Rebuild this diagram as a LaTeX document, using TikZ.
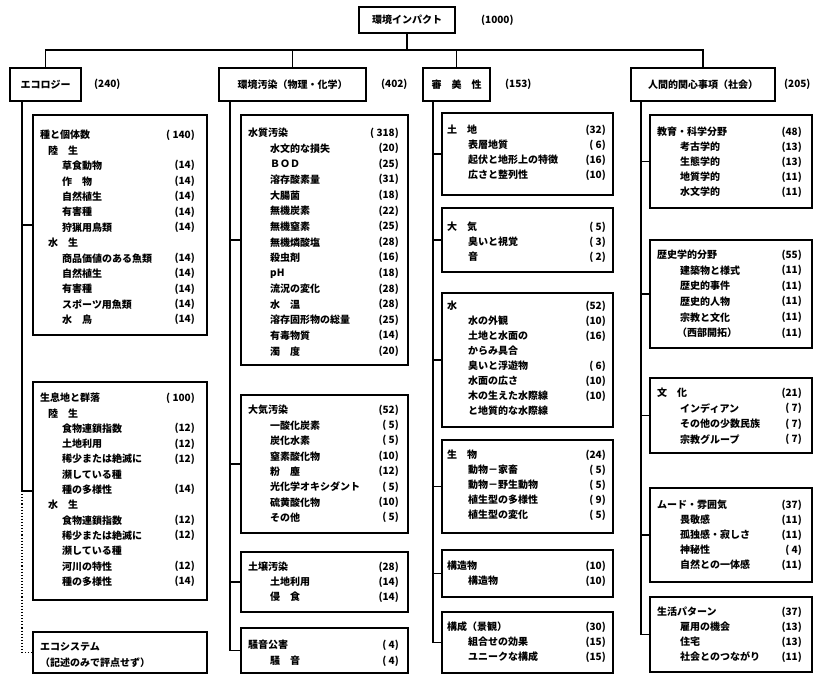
\documentclass[tikz,border=0pt]{standalone}
\usepackage{fontspec}
\setmainfont{Noto Sans CJK JP}
\usepackage{tikz}

\begin{document}
\begin{tikzpicture}[x=1pt, y=-1pt,
  conn/.style={line width=1.1pt},
  hdbox/.style={draw, line width=1.8pt, inner sep=0pt, font=\fontsize{10}{11}\selectfont\bfseries},
  grp/.style={draw, line width=1.3pt, inner sep=0pt},
  row/.style={anchor=west, inner sep=0pt, font=\fontsize{10}{11}\selectfont\bfseries},
  wt/.style={anchor=east, inner sep=0pt, font=\fontsize{10}{11}\selectfont\bfseries}]

\path[use as bounding box, fill=white] (0,0) rectangle (817,675);

% ===== Top =====

\node[hdbox, minimum width=96pt, minimum height=26pt] (imp) at (407,20) {環境インパクト};
\node[row] (impw) at (481,20) {(1000)};

% ===== Level 1 =====

\node[hdbox, minimum width=71pt, minimum height=33pt] (eco) at (45.5,84.5) {エコロジー};
\node[row] (ecow) at (94,84.5) {(240)};
\node[hdbox, minimum width=147pt, minimum height=33pt] (pol) at (292.5,84.5) {環境汚染（物理・化学）};
\node[row] (polw) at (381,84.5) {(402)};
\node[hdbox, minimum width=67pt, minimum height=33pt] (aes) at (456.5,84.5) {審　美　性};
\node[row] (aesw) at (505,84.5) {(153)};
\node[hdbox, minimum width=144pt, minimum height=33pt] (hum) at (703,84.5) {人間的関心事項（社会）};
\node[row] (humw) at (784,84.5) {(205)};

\coordinate (bus) at (407,50);
\draw[conn] (imp.south) -- (bus);
\draw[conn] (eco.north) |- (bus) -| (hum.north);
\draw[conn] (pol.north) -- (pol.north |- bus);
\draw[conn] (aes.north) -- (aes.north |- bus);

% ===== Ecology =====

\node[grp, minimum width=174pt, minimum height=220pt] (eb1) at (120,225) {};
\foreach \ind/\txt/\num [count=\i] in {0/種と個体数/( 140), 8/陸　生/{}, 22/草食動物/(14),
    22/作　物/(14), 22/自然植生/(14), 22/有害種/(14), 22/狩猟用鳥類/(14), 8/水　生/{},
    22/商品価値のある魚類/(14), 22/自然植生/(14), 22/有害種/(14), 22/スポーツ用魚類/(14), 22/水　鳥/(14)}
  {\node[row] (eb1r\i) at (40+\ind,135+15.4*\i-15.4) {\txt};
   \node[wt] (eb1w\i) at (195,135+15.4*\i-15.4) {\num};}

\node[grp, minimum width=174pt, minimum height=218pt] (eb2) at (120,491) {};
\foreach \ind/\txt/\num [count=\i] in {0/生息地と群落/( 100), 8/陸　生/{}, 22/食物連鎖指数/(12),
    22/土地利用/(12), 22/稀少または絶滅に/(12), 22/瀕している種/{}, 22/種の多様性/(14), 8/水　生/{},
    22/食物連鎖指数/(12), 22/稀少または絶滅に/(12), 22/瀕している種/{}, 22/河川の特性/(12), 22/種の多様性/(14)}
  {\node[row] (eb2r\i) at (40+\ind,398+15.3*\i-15.3) {\txt};
   \node[wt] (eb2w\i) at (195,398+15.3*\i-15.3) {\num};}

\node[grp, minimum width=174pt, minimum height=41pt] (eb3) at (120,652.5) {};
\node[row] (eb3r1) at (40,647) {エコシステム};
\node[row] (eb3r2) at (40,663) {（記述のみで評点せず）};

\coordinate (ecoT) at (22,101);
\draw[conn] (ecoT) |- (eb1.west);
\draw[conn] (ecoT) |- (eb2.west);
\draw[conn, dotted] (ecoT |- eb2.west) |- (eb3.west);

% ===== Pollution =====

\node[grp, minimum width=167pt, minimum height=250pt] (pb1) at (324.5,240) {};
\foreach \ind/\txt/\num [count=\i] in {0/水質汚染/( 318), 22/水文的な損失/(20), 22/ＢＯＤ/(25),
    22/溶存酸素量/(31), 22/大腸菌/(18), 22/無機炭素/(22), 22/無機窒素/(25), 22/無機燐酸塩/(28),
    22/殺虫剤/(16), 22/pH/(18), 22/流況の変化/(28), 22/水　温/(28), 22/溶存固形物の総量/(25),
    22/有毒物質/(14), 22/濁　度/(20)}
  {\node[row] (pb1r\i) at (248+\ind,133+15.6*\i-15.6) {\txt};
   \node[wt] (pb1w\i) at (399,133+15.6*\i-15.6) {\num};}

\node[grp, minimum width=167pt, minimum height=138pt] (pb2) at (324.5,464) {};
\foreach \ind/\txt/\num [count=\i] in {0/大気汚染/(52), 22/一酸化炭素/( 5), 22/炭化水素/( 5),
    22/窒素酸化物/(10), 22/粉　塵/(12), 22/光化学オキシダント/( 5), 22/硫黄酸化物/(10), 22/その他/( 5)}
  {\node[row] (pb2r\i) at (248+\ind,410+15.4*\i-15.4) {\txt};
   \node[wt] (pb2w\i) at (399,410+15.4*\i-15.4) {\num};}

\node[grp, minimum width=167pt, minimum height=60pt] (pb3) at (324.5,582) {};
\foreach \ind/\txt/\num [count=\i] in {0/土壌汚染/(28), 22/土地利用/(14), 22/侵　食/(14)}
  {\node[row] (pb3r\i) at (248+\ind,567+15*\i-15) {\txt};
   \node[wt] (pb3w\i) at (399,567+15*\i-15) {\num};}

\node[grp, minimum width=167pt, minimum height=45pt] (pb4) at (324.5,650.5) {};
\foreach \ind/\txt/\num [count=\i] in {0/騒音公害/( 4), 22/騒　音/( 4)}
  {\node[row] (pb4r\i) at (248+\ind,645+16*\i-16) {\txt};
   \node[wt] (pb4w\i) at (399,645+16*\i-16) {\num};}

\coordinate (polT) at (230,101);
\foreach \b in {pb1,pb2,pb3,pb4}
  \draw[conn] (polT) |- (\b.west);

% ===== Aesthetics =====

\node[grp, minimum width=171pt, minimum height=82pt] (ab1) at (527.5,154) {};
\foreach \ind/\txt/\num [count=\i] in {0/土　地/(32), 21/表層地質/( 6), 21/起伏と地形上の特徴/(16),
    21/広さと整列性/(10)}
  {\node[row] (ab1r\i) at (447+\ind,130+15*\i-15) {\txt};
   \node[wt] (ab1w\i) at (606,130+15*\i-15) {\num};}

\node[grp, minimum width=171pt, minimum height=64pt] (ab2) at (527.5,240) {};
\foreach \ind/\txt/\num [count=\i] in {0/大　気/( 5), 21/臭いと視覚/( 3), 21/音/( 2)}
  {\node[row] (ab2r\i) at (447+\ind,227+15*\i-15) {\txt};
   \node[wt] (ab2w\i) at (606,227+15*\i-15) {\num};}

\node[grp, minimum width=171pt, minimum height=134pt] (ab3) at (527.5,360) {};
\foreach \ind/\txt/\num [count=\i] in {0/水/(52), 21/水の外観/(10), 21/土地と水面の/(16),
    21/からみ具合/{}, 21/臭いと浮遊物/( 6), 21/水面の広さ/(10), 21/木の生えた水際線/(10),
    21/と地質的な水際線/{}}
  {\node[row] (ab3r\i) at (447+\ind,306+15*\i-15) {\txt};
   \node[wt] (ab3w\i) at (606,306+15*\i-15) {\num};}

\node[grp, minimum width=171pt, minimum height=93pt] (ab4) at (527.5,486.5) {};
\foreach \ind/\txt/\num [count=\i] in {0/生　物/(24), 21/動物－家畜/( 5), 21/動物－野生動物/( 5),
    21/植生型の多様性/( 9), 21/植生型の変化/( 5)}
  {\node[row] (ab4r\i) at (447+\ind,455+15*\i-15) {\txt};
   \node[wt] (ab4w\i) at (606,455+15*\i-15) {\num};}

\node[grp, minimum width=171pt, minimum height=47pt] (ab5) at (527.5,573.5) {};
\foreach \ind/\txt/\num [count=\i] in {0/構造物/(10), 21/構造物/(10)}
  {\node[row] (ab5r\i) at (447+\ind,566+15*\i-15) {\txt};
   \node[wt] (ab5w\i) at (606,566+15*\i-15) {\num};}

\node[grp, minimum width=171pt, minimum height=61pt] (ab6) at (527.5,642.5) {};
\foreach \ind/\txt/\num [count=\i] in {0/構成（景観）/(30), 21/組合せの効果/(15), 21/ユニークな構成/(15)}
  {\node[row] (ab6r\i) at (447+\ind,627+15*\i-15) {\txt};
   \node[wt] (ab6w\i) at (606,627+15*\i-15) {\num};}

\coordinate (aesT) at (433,101);
\foreach \b in {ab1,ab2,ab3,ab4,ab5,ab6}
  \draw[conn] (aesT) |- (\b.west);

% ===== Human interest =====

\node[grp, minimum width=162pt, minimum height=93pt] (hb1) at (731,161.5) {};
\foreach \ind/\txt/\num [count=\i] in {0/教育・科学分野/(48), 23/考古学的/(13), 23/生態学的/(13),
    23/地質学的/(11), 23/水文学的/(11)}
  {\node[row] (hb1r\i) at (657+\ind,132+15*\i-15) {\txt};
   \node[wt] (hb1w\i) at (802,132+15*\i-15) {\num};}

\node[grp, minimum width=162pt, minimum height=108pt] (hb2) at (731,294) {};
\foreach \ind/\txt/\num [count=\i] in {0/歴史学的分野/(55), 23/建築物と様式/(11), 23/歴史的事件/(11),
    23/歴史的人物/(11), 23/宗教と文化/(11), 20/（西部開拓）/(11)}
  {\node[row] (hb2r\i) at (657+\ind,255+15.6*\i-15.6) {\txt};
   \node[wt] (hb2w\i) at (802,255+15.6*\i-15.6) {\num};}

\node[grp, minimum width=162pt, minimum height=75pt] (hb3) at (731,415.5) {};
\foreach \ind/\txt/\num [count=\i] in {0/文　化/(21), 23/インディアン/( 7), 23/その他の少数民族/( 7),
    23/宗教グループ/( 7)}
  {\node[row] (hb3r\i) at (657+\ind,393+15.6*\i-15.6) {\txt};
   \node[wt] (hb3w\i) at (802,393+15.6*\i-15.6) {\num};}

\node[grp, minimum width=162pt, minimum height=94pt] (hb4) at (731,535) {};
\foreach \ind/\txt/\num [count=\i] in {0/ムード・雰囲気/(37), 23/畏敬感/(11), 23/孤独感・寂しさ/(11),
    23/神秘性/( 4), 23/自然との一体感/(11)}
  {\node[row] (hb4r\i) at (657+\ind,505+15*\i-15) {\txt};
   \node[wt] (hb4w\i) at (802,505+15*\i-15) {\num};}

\node[grp, minimum width=162pt, minimum height=75pt] (hb5) at (731,634.5) {};
\foreach \ind/\txt/\num [count=\i] in {0/生活パターン/(37), 23/雇用の機会/(13), 23/住宅/(13),
    23/社会とのつながり/(11)}
  {\node[row] (hb5r\i) at (657+\ind,612+15*\i-15) {\txt};
   \node[wt] (hb5w\i) at (802,612+15*\i-15) {\num};}

\coordinate (humT) at (641,101);
\foreach \b in {hb1,hb2,hb3,hb4,hb5}
  \draw[conn] (humT) |- (\b.west);

\end{tikzpicture}
\end{document}
